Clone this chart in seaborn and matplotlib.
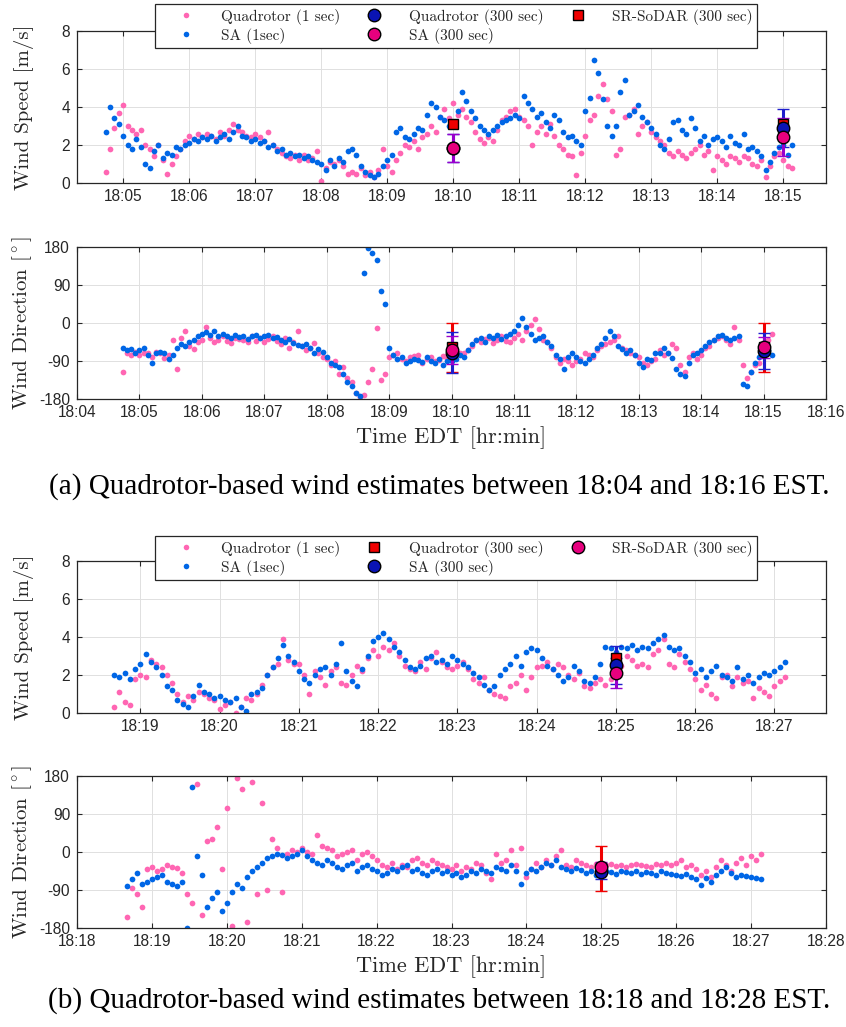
import numpy as np
import matplotlib
matplotlib.use("Agg")
import matplotlib.pyplot as plt
from matplotlib.lines import Line2D
import seaborn as sns

# ---------------- data ----------------
# Panel (a): 1-s series shown every 4 s, first sample 18:04:44 (minutes after 18:00)
start_a = 4 + 44 / 60
step = 4 / 60
spd_sa_a = [2.7, 4.0, 3.4, 3.1,
            2.5, 2.0, 1.8, 2.3, 1.9, 1.0, 0.8, 1.7, 2.0, 1.3, 1.6, 1.5, 1.9, 1.8, 2.0,
            2.1, 2.3, 2.2, 2.4, 2.3, 2.5, 2.2, 2.4, 2.6, 2.3, 2.7, 3.0, 2.5, 2.4, 2.2,
            2.3, 2.1, 2.2, 1.9, 2.0, 1.7, 1.8, 1.5, 1.6, 1.4, 1.5, 1.3, 1.4, 1.2, 1.1,
            1.0, 0.7, 1.2, 0.9, 1.3, 1.1, 1.7, 1.8, 1.5, 0.9, 0.6, 0.4, 0.3, 0.5, 0.9,
            1.2, 1.5, 2.7, 2.9, 2.4, 2.3, 2.6, 2.9, 2.8, 3.6, 4.2, 4.0, 3.5, 3.3, 3.0,
            3.2, 3.8, 4.8, 4.3, 3.8, 3.4, 3.0, 2.8, 2.6, 2.8, 3.0, 3.2, 3.3, 3.4, 3.6,
            3.4, 4.6, 4.2, 3.9, 3.5, 3.7, 3.2, 2.9, 3.6, 3.3, 2.7, 2.4, 2.5, 2.2, 2.0,
            3.8, 4.5, 6.5, 5.8, 4.4, 3.0, 2.5, 3.0, 4.8, 5.4, 3.6, 3.8, 4.1, 3.5, 3.2,
            2.9, 2.6, 2.0, 1.8, 2.3, 3.2, 3.3, 2.8, 2.6, 3.4, 2.9, 2.2, 2.5, 2.0, 2.3,
            2.4, 2.2, 1.9, 2.5, 2.1, 2.0, 2.6, 1.8, 1.9, 1.7, 1.4, 0.7, 1.1, 1.6, 1.9,
            2.0, 1.5, 2.0]
spd_quad_a = [0.6, 1.8, 2.9, 3.7,
              4.1, 3.0, 2.8, 2.6, 2.8, 2.0, 1.8, 1.4, 2.0, 1.2, 0.5, 1.0, 1.4, 1.8, 2.2,
              2.5, 2.3, 2.6, 2.4, 2.6, 2.5, 2.3, 2.7, 2.5, 2.8, 3.1, 2.8, 2.7, 2.5, 2.4,
              2.6, 2.4, 2.2, 2.7, 2.0, 1.8, 1.6, 1.4, 1.3, 1.5, 1.2, 1.5, 1.2, 1.3, 1.7,
              0.1, 0.8, 1.1, 1.0, 1.2, 0.9, 0.5, 0.6, 0.5, 0.8, 0.4, 0.6, 0.3, 0.7, 1.8,
              0.9, 0.6, 1.2, 1.6, 2.0, 1.9, 2.2, 1.8, 2.4, 2.6, 3.0, 2.7, 3.5, 3.9, 3.4,
              4.2, 3.6, 3.9, 3.5, 3.2, 2.7, 2.3, 2.1, 2.4, 2.2, 2.8, 3.3, 3.5, 3.8, 3.9,
              3.5, 3.3, 3.0, 2.0, 2.7, 3.0, 2.6, 3.1, 2.5, 2.0, 1.8, 1.5, 1.4, 0.4, 1.6,
              2.5, 3.3, 3.6, 4.6, 5.2, 4.4, 3.8, 1.5, 1.8, 3.5, 3.6, 3.9, 2.6, 3.0, 3.2,
              2.7, 2.4, 2.2, 2.0, 1.6, 1.4, 1.7, 1.5, 1.3, 1.6, 1.8, 2.0, 1.5, 1.7, 0.7,
              1.4, 1.2, 1.0, 1.4, 1.3, 1.1, 1.4, 1.3, 1.0, 0.9, 1.2, 0.3, 0.9, 1.4, 1.6,
              1.2, 0.9, 0.8]
dir_sa_a = [-60, -65, -62, -70,
            -65, -60, -75, -95, -72, -68, -70, -85, -75, -60, -50, -55, -45, -40, -30,
            -25, -22, -28, -20, -30, -25, -30, -35, -28, -32, -30, -38, -30, -28, -35,
            -30, -28, -35, -32, -40, -45, -38, -48, -52, -55, -50, -60, -70, -62, -68,
            -80, -95, -100, -105, -120, -140, -150, -165, -172, 118, 178, 165, 150, 75, 45,
            -60, -75, -85, -80, -95, -90, -85, -88, -92, -80, -90, -95, -85, -100, -90,
            -90, -85, -75, -80, -65, -50, -40, -35, -45, -30, -35, -28, -38, -30, -25,
            -20, -5, 12, -10, -25, -40, -35, -30, -45, -55, -75, -85, -110, -80, -70,
            -80, -90, -95, -85, -75, -60, -50, -35, -20, -30, -55, -62, -70, -65, -75,
            -95, -105, -85, -88, -70, -72, -60, -70, -82, -110, -120, -125, -95, -75, -70,
            -65, -55, -45, -40, -30, -28, -35, -40, -35, -30, -145, -150, -115, -95, -80,
            -70, -65, -75]
dir_quad_a = [-115, -70, -75, -68,
              -75, -72, -70, -80, -68, -72, -82, -75, -40, -110, -35, -20, -55, -62, -45,
              -40, -10, -35, -45, -40, -30, -42, -48, -35, -38, -40, -45, -30, -42, -35,
              -45, -38, -30, -42, -50, -35, -60, -45, -20, -55, -65, -60, -48, -70, -80,
              -85, -100, -90, -120, -105, -130, -140, -165, -175, -170, -140, -110, -12, -135, -120,
              -80, -75, -70, -85, -90, -80, -78, -75, -95, -85, -80, -90, -88, -78, -85,
              -80, -75, -70, -72, -65, -55, -40, -45, -38, -35, -48, -40, -30, -42, -45,
              -35, -25, -40, -20, -5, 10, -15, -40, -45, -60, -80, -95, -85, -90, -100,
              -90, -85, -70, -75, -80, -65, -55, -50, -45, -40, -30, -60, -65, -70, -75,
              -80, -95, -100, -90, -85, -65, -75, -70, -50, -60, -100, -115, -80, -70, -85,
              -75, -60, -55, -40, -35, -30, -40, -50, -10, -40, -100, -130, -115, -100, -95,
              -60, -40, -25]

# Panel (b): first sample 18:18:40
start_b = 18 + 40 / 60
spd_sa_b = [2.0, 1.9, 2.1, 1.8, 2.3,
            2.6, 3.1, 2.7, 2.4, 2.0, 1.4, 1.2, 0.7, 0.5, 0.3, 0.9, 1.5, 1.1, 1.0, 0.8,
            0.9, 0.7, 0.6, 0.8, 0.3, 0.1, 1.0, 1.1, 1.3, 2.0, 2.4, 2.9, 3.6, 3.0, 2.7,
            2.2, 1.8, 1.6, 2.0, 2.3, 2.4, 2.0, 2.6, 3.7, 2.2, 1.7, 1.4, 2.3, 3.0, 3.8,
            4.0, 4.2, 3.9, 3.5, 3.2, 2.8, 2.4, 2.3, 2.5, 2.9, 3.0, 2.7, 2.8, 2.6, 3.0,
            2.8, 2.6, 2.4, 2.1, 1.9, 1.5, 1.2, 1.4, 2.0, 2.3, 2.6, 3.0, 2.5, 3.2, 3.4,
            3.3, 2.9, 2.5, 2.3, 2.0, 1.7, 1.9, 2.5, 2.2, 1.7, 1.6, 1.9, 2.6, 3.5, 3.4,
            3.2, 3.5, 3.4, 3.6, 3.3, 3.5, 3.4, 3.7, 3.9, 4.1, 3.5, 3.3, 3.4, 3.0, 2.7,
            2.1, 2.3, 1.9, 2.2, 2.5, 2.0, 1.9, 1.7, 2.4, 1.8, 2.0, 1.6, 1.9, 2.1, 2.0,
            2.2, 2.4, 2.7]
spd_quad_b = [0.3, 1.1, 0.6, 0.4, 1.8,
              2.0, 1.9, 2.8, 2.6, 2.4, 2.0, 1.6, 1.0, 0.6, 0.9, 0.7, 1.1, 1.0, 0.8, 0.7,
              0.2, 0.4, 0.6, 0.0, 0.3, 0.8, 0.7, 1.0, 1.5, 2.0, 2.4, 2.6, 3.9, 2.8, 2.6,
              2.6, 2.0, 1.0, 2.2, 1.9, 1.5, 2.2, 2.4, 1.6, 1.5, 2.0, 2.5, 2.2, 2.9, 3.3,
              3.0, 3.5, 3.3, 3.7, 3.0, 2.5, 2.3, 2.2, 2.7, 2.3, 2.9, 3.2, 2.7, 2.4, 2.3,
              2.5, 2.7, 2.3, 1.8, 1.6, 1.9, 1.2, 1.0, 0.9, 0.8, 1.4, 1.6, 2.0, 1.2, 1.9,
              2.4, 2.5, 2.7, 2.3, 2.6, 2.4, 2.0, 1.8, 2.1, 1.4, 1.3, 1.6, 1.8, 1.5, 1.8,
              2.2, 2.5, 3.0, 2.8, 2.5, 2.6, 2.4, 3.1, 3.3, 3.9, 2.6, 2.4, 3.1, 2.7, 2.3,
              1.8, 1.2, 1.5, 1.0, 0.8, 1.9, 2.0, 1.4, 1.9, 1.6, 1.7, 0.8, 1.3, 1.1, 0.9,
              1.4, 1.7, 1.9]
dir_sa_b = [-80, -65, -50, -75, -70,
            -65, -60, -55, -70, -75, -80, -70, -180, 155, -10, -55, -130, -110, -95, -140,
            -120, -95, -75, -85, -60, -45, -35, -25, -15, -10, -5, -8, -15, -10, -5,
            5, -10, -20, -25, -30, -20, -25, -35, -40, -30, -25, -45, -35, -30, -40,
            -45, -55, -50, -40, -45, -35, -30, -45, -40, -50, -55, -45, -40, -50, -45,
            -55, -50, -60, -55, -45, -50, -40, -45, -50, -35, -40, -45, -30, -45, -75,
            -50, -40, -45, -35, -25, -30, -20, -35, -40, -45, -38, -42, -50, -45, -55,
            -50, -45, -48, -52, -45, -48, -50, -45, -52, -48, -50, -55, -45, -50, -52,
            -55, -58, -52, -60, -65, -78, -62, -70, -55, -45, -35, -50, -60, -55, -58,
            -60, -62, -65]
dir_quad_b = [-155, -85, -100, -130, -40,
              -35, -45, -40, -30, -35, -38, -50, -100, -120, 160, -150, 25, 30, 60, -40,
              105, -175, 175, 150, -165, 165, -100, 115, -90, 30, 10, -95, -5, 5, 0,
              10, 0, -5, 40, 15, 10, 5, -10, -5, 0, 5, -20, -5, 0, -10,
              -20, -30, -35, -25, -40, -30, -35, -20, -15, -25, -30, -20, -25, -30, -35,
              -40, -30, -45, -35, -40, -25, -30, -50, -65, -5, -25, -20, 5, -30, 10,
              -60, -40, -25, -35, -20, -30, -10, 5, -30, -35, -20, -25, -30, -35, -28,
              -35, -30, -28, -32, -30, -35, -30, -28, -30, -32, -35, -28, -30, -25, -30,
              -25, -20, -35, -30, -40, -55, -45, -60, -35, -20, -30, -45, -25, -15, -30,
              -10, -20, -5]

# 300-s averages (time in minutes after 18:00, value, std)
t300_a = [10, 15]
quad300_spd_a, quad300_spd_a_err = [1.85, 2.9], [0.75, 1.0]
sa300_spd_a, sa300_spd_a_err = [1.85, 2.4], [0.75, 1.0]
sodar_spd_a = [3.1, 3.1]
quad300_dir_a, quad300_dir_a_err = [-70, -66], [48, 43]
sa300_dir_a, sa300_dir_a_err = [-64, -58], [33, 25]
sodar_dir_a, sodar_dir_a_err = [-58, -58], [59, 58]

t300_b = [25]
quad300_spd_b = [2.9]
sa300_spd_b, sa300_spd_b_err = [2.55], [1.0]
sodar_spd_b, sodar_spd_b_err = [2.1], [0.8]
quad300_dir_b, quad300_dir_b_err = [-39], [53]
sa300_dir_b, sa300_dir_b_err = [-47], [18]
sodar_dir_b, sodar_dir_b_err = [-35], [12]

labels_a = ["Quadrotor (1 sec)", "SA (1sec)", "Quadrotor (300 sec)", "SA (300 sec)", "SR-SoDAR (300 sec)"]
labels_b = ["Quadrotor (1 sec)", "SA (1sec)", "Quadrotor (300 sec)", "SA (300 sec)", "SR-SoDAR (300 sec)"]
caption_a = "(a) Quadrotor-based wind estimates between 18:04 and 18:16 EST."
caption_b = "(b) Quadrotor-based wind estimates between 18:18 and 18:28 EST."

# ---------------- style ----------------
PINK = "#FF66B3"
BLUE = "#0066E6"
NAVY = "#0A14B4"
MAGENTA = "#E6007E"
PURPLE = "#9900CC"
EBLUE = "#1E1ECC"
RED = "#F00000"
EDGE = "#262626"

sns.set_style("ticks")
plt.rcParams["font.family"] = ["Liberation Sans", "DejaVu Sans"]
plt.rcParams["mathtext.fontset"] = "cm"
plt.rcParams["axes.unicode_minus"] = False
plt.rcParams["axes.linewidth"] = 0.9
plt.rcParams["axes.edgecolor"] = EDGE
plt.rcParams["xtick.direction"] = "in"
plt.rcParams["ytick.direction"] = "in"

SERIF = "cmr10"

fig = plt.figure(figsize=(8.46, 10.27), dpi=100)
L, W, H = 77 / 846, 749 / 846, 152 / 1027
ax1 = fig.add_axes([L, 1 - 183 / 1027, W, H])
ax2 = fig.add_axes([L, 1 - 399 / 1027, W, H])
ax3 = fig.add_axes([L, 1 - 713 / 1027, W, H])
ax4 = fig.add_axes([L, 1 - 928 / 1027, W, H])


def times(start, vals):
    return start + np.arange(len(vals)) * step


def dots(ax, start, quad, sa):
    sns.scatterplot(x=times(start, quad), y=quad, ax=ax, color=PINK, s=17,
                    linewidth=0, legend=False, zorder=2)
    sns.scatterplot(x=times(start, sa), y=sa, ax=ax, color=BLUE, s=17,
                    linewidth=0, legend=False, zorder=2)


def avg(ax, t, v, err, marker, fc, ecolor, ms):
    ax.errorbar(t, v, yerr=err, fmt=marker, mfc=fc, mec="black", mew=1.0, ms=ms,
                ecolor=ecolor, elinewidth=2.2, capsize=4.5, capthick=2.2, zorder=5)


def style(ax, xlim, xticks, ylim, yticks, ylabel):
    ax.set_xlim(*xlim)
    ax.set_ylim(*ylim)
    ax.set_xticks(xticks)
    ax.set_xticklabels([f"18:{m:02d}" for m in xticks])
    ax.set_yticks(yticks)
    ax.set_yticklabels([str(v) for v in yticks])
    ax.tick_params(labelsize=11.2, length=3.5, width=0.8, color=EDGE, top=True, right=True,
                   labelcolor="#262626", pad=4)
    ax.tick_params(axis="y", pad=5)
    ax.grid(True, color="#E0E0E0", linewidth=0.7)
    ax.set_axisbelow(True)
    ax.set_ylabel(ylabel, fontsize=15, family=SERIF, color="#262626")
    ax.yaxis.set_label_coords(-0.058, 0.5)
    ax.set_xlabel("")


# panel (a) speed
dots(ax1, start_a, spd_quad_a, spd_sa_a)
avg(ax1, t300_a, sodar_spd_a, None, "s", RED, RED, 7)
avg(ax1, t300_a, quad300_spd_a, quad300_spd_a_err, "o", NAVY, EBLUE, 9)
avg(ax1, t300_a, sa300_spd_a, sa300_spd_a_err, "o", MAGENTA, PURPLE, 9)
style(ax1, (4.3, 15.65), list(range(5, 16)), (0, 8), [0, 2, 4, 6, 8], "Wind Speed [m/s]")

# panel (a) direction
dots(ax2, start_a, dir_quad_a, dir_sa_a)
avg(ax2, t300_a, sodar_dir_a, sodar_dir_a_err, "s", RED, RED, 7)
avg(ax2, t300_a, quad300_dir_a, quad300_dir_a_err, "o", NAVY, EBLUE, 9)
avg(ax2, t300_a, sa300_dir_a, sa300_dir_a_err, "o", MAGENTA, PURPLE, 9)
style(ax2, (4, 16), list(range(4, 17)), (-180, 180), [-180, -90, 0, 90, 180],
      r"Wind Direction [$^\circ$]")
ax2.set_xlabel("Time EDT [hr:min]", fontsize=16, family=SERIF, color="#262626", labelpad=5)

# panel (b) speed
dots(ax3, start_b, spd_quad_b, spd_sa_b)
avg(ax3, t300_b, quad300_spd_b, None, "s", RED, RED, 7)
avg(ax3, t300_b, sa300_spd_b, sa300_spd_b_err, "o", NAVY, EBLUE, 9)
avg(ax3, t300_b, sodar_spd_b, sodar_spd_b_err, "o", MAGENTA, PURPLE, 9)
style(ax3, (18.2, 27.65), list(range(19, 28)), (0, 8), [0, 2, 4, 6, 8], "Wind Speed [m/s]")

# panel (b) direction
dots(ax4, start_b, dir_quad_b, dir_sa_b)
avg(ax4, t300_b, quad300_dir_b, quad300_dir_b_err, "s", RED, RED, 7)
avg(ax4, t300_b, sa300_dir_b, sa300_dir_b_err, "o", NAVY, EBLUE, 9)
avg(ax4, t300_b, sodar_dir_b, sodar_dir_b_err, "o", MAGENTA, PURPLE, 9)
style(ax4, (18, 28), list(range(18, 29)), (-180, 180), [-180, -90, 0, 90, 180],
      r"Wind Direction [$^\circ$]")
ax4.set_xlabel("Time EDT [hr:min]", fontsize=16, family=SERIF, color="#262626", labelpad=5)


def dot_h(c):
    return Line2D([], [], ls="", marker="o", ms=4, mfc=c, mec="none")


def big_h(marker, c, ms):
    return Line2D([], [], ls="", marker=marker, ms=ms, mfc=c, mec="black", mew=1.0)


handles_a = [dot_h(PINK), dot_h(BLUE), big_h("o", NAVY, 9), big_h("o", MAGENTA, 9), big_h("s", RED, 7)]
handles_b = [dot_h(PINK), dot_h(BLUE), big_h("s", RED, 7), big_h("o", NAVY, 9), big_h("o", MAGENTA, 9)]

for ax, hs, lbs, top in [(ax1, handles_a, labels_a, 1.178), (ax3, handles_b, labels_b, 1.165)]:
    leg = ax.legend(hs, lbs, ncol=3, loc="upper center", bbox_to_anchor=(0.506, top),
                    borderaxespad=0.0,
                    prop={"family": SERIF, "size": 11}, frameon=True, fancybox=False,
                    edgecolor=EDGE, framealpha=1, borderpad=0.3, labelspacing=0.2,
                    handletextpad=0.5, columnspacing=0.5, handlelength=3.5)
    leg.get_frame().set_linewidth(0.9)
    leg.set_zorder(10)

fig.text(0.519, 1 - 487 / 1027, caption_a, ha="center", va="center",
         fontsize=21, family="Liberation Serif", color="black")
fig.text(0.519, 1 - 1001 / 1027, caption_b, ha="center", va="center",
         fontsize=21, family="Liberation Serif", color="black")

fig.savefig("out.png", dpi=100)
